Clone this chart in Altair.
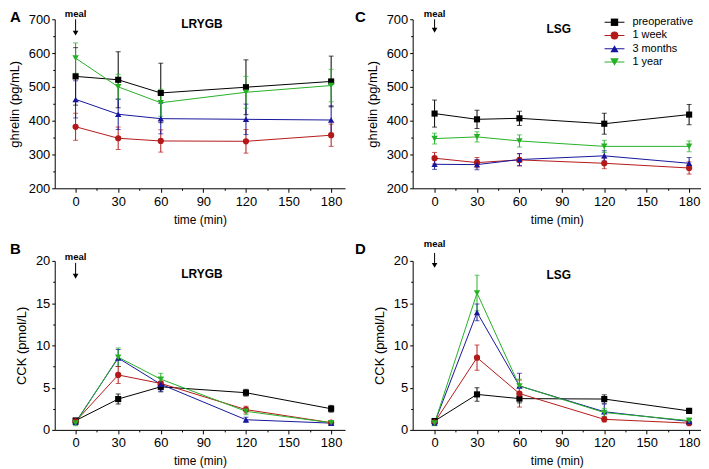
import altair as alt
import pandas as pd

# ---------------- data ----------------
times = [0, 30, 60, 120, 180]
series = ["preoperative", "1 week", "3 months", "1 year"]
colors = ["#000000", "#b41919", "#16169c", "#26b026"]
shapes = ["square", "circle", "triangle-up", "triangle-down"]
point_sizes = [38, 42, 50, 50]
legend_sizes = [55, 75, 95, 95]
meal_time = [0]
meal_label = ["meal"]
panel_letters = ["A", "B", "C", "D"]
panel_titles = ["LRYGB", "LRYGB", "LSG", "LSG"]
ghrelin_title = "ghrelin (pg/mL)"
cck_title = "CCK (pmol/L)"
time_title = "time (min)"
x_ticks = [0, 30, 60, 90, 120, 150, 180]
x_minor = [15, 45, 75, 105, 135, 165]
ghrelin_ticks = [200, 300, 400, 500, 600, 700]
ghrelin_minor = [250, 350, 450, 550, 650]
cck_ticks = [0, 5, 10, 15, 20]
cck_minor = [2.5, 7.5, 12.5, 17.5]

# Panel A: ghrelin, LRYGB (mean, SEM)
a_preop = [531, 521, 482, 499, 516]
a_preop_se = [85, 83, 88, 81, 75]
a_1w = [382, 348, 340, 339, 357]
a_1w_se = [40, 33, 33, 35, 33]
a_3m = [463, 419, 406, 404, 402]
a_3m_se = [55, 45, 45, 45, 42]
a_1y = [585, 500, 453, 484, 504]
a_1y_se = [45, 37, 40, 47, 48]

# Panel C: ghrelin, LSG
c_preop = [421, 404, 407, 391, 418]
c_preop_se = [40, 27, 21, 31, 30]
c_1w = [289, 276, 284, 274, 260]
c_1w_se = [17, 15, 18, 16, 18]
c_3m = [271, 270, 285, 296, 274]
c_3m_se = [15, 15, 18, 15, 17]
c_1y = [347, 352, 340, 324, 324]
c_1y_se = [16, 15, 18, 18, 16]

# Panel B: CCK, LRYGB
b_preop = [1.1, 3.65, 5.1, 4.4, 2.5]
b_preop_se = [0.3, 0.6, 0.6, 0.4, 0.4]
b_1w = [1.0, 6.5, 5.5, 2.4, 0.85]
b_1w_se = [0.3, 1.0, 0.7, 0.4, 0.2]
b_3m = [0.9, 8.5, 5.4, 1.2, 0.8]
b_3m_se = [0.3, 1.0, 0.8, 0.3, 0.2]
b_1y = [0.8, 8.6, 6.0, 2.2, 0.85]
b_1y_se = [0.3, 1.1, 0.7, 0.4, 0.2]

# Panel D: CCK, LSG
d_preop = [1.05, 4.2, 3.7, 3.65, 2.25]
d_preop_se = [0.3, 0.8, 0.5, 0.5, 0.3]
d_1w = [0.9, 8.55, 4.3, 1.25, 0.8]
d_1w_se = [0.3, 1.5, 1.6, 0.3, 0.2]
d_3m = [0.85, 13.9, 5.2, 2.15, 1.0]
d_3m_se = [0.3, 1.0, 1.5, 0.9, 0.3]
d_1y = [0.8, 16.2, 5.2, 2.05, 1.1]
d_1y_se = [0.3, 2.1, 0.8, 0.5, 0.3]

FONT = "Liberation Sans"


def make_df(means, ses):
    rows = []
    for s, m, e in zip(series, means, ses):
        for t, v, se in zip(times, m, e):
            rows.append({"series": s, "time": t, "mean": v, "lo": v - se, "hi": v + se})
    return pd.DataFrame(rows)


color_enc = alt.Color("series:N", scale=alt.Scale(domain=series, range=colors), legend=None)
shape_enc = alt.Shape("series:N", scale=alt.Scale(domain=series, range=shapes), legend=None)


def panel(df, letter, title, ytitle, ydom, ymajor, yminor, xdom, width, lay, legend=False):
    height = 170

    def X(field, axis=None):
        return alt.X(field, type="quantitative",
                     scale=alt.Scale(domain=xdom, nice=False, zero=False),
                     axis=axis)

    def Y(field, axis=None):
        return alt.Y(field, type="quantitative",
                     scale=alt.Scale(domain=ydom, nice=False, zero=False),
                     axis=axis)

    base = alt.Chart(df)
    err = base.mark_rule(strokeWidth=1).encode(
        x=X("time"), y=Y("lo"), y2="hi", color=color_enc)
    cap_lo = base.mark_tick(orient="horizontal", size=5, thickness=1).encode(
        x=X("time"), y=Y("lo"), color=color_enc)
    cap_hi = base.mark_tick(orient="horizontal", size=5, thickness=1).encode(
        x=X("time"), y=Y("hi"), color=color_enc)
    line = base.mark_line(strokeWidth=1).encode(
        x=X("time"), y=Y("mean"), color=color_enc)
    pts = base.mark_point(filled=True, opacity=1).encode(
        x=X("time", alt.Axis(values=x_ticks, title=time_title, orient="bottom",
                             tickSize=4, labelPadding=3, titlePadding=6,
                             titleFontSize=12, labelFlush=False, labelOverlap=False)),
        y=Y("mean", alt.Axis(values=ymajor, title=ytitle, orient="left",
                             tickSize=3, labelPadding=2, titlePadding=7,
                             titleFontSize=13, labelFlush=False, labelOverlap=False)),
        color=color_enc, shape=shape_enc,
        size=alt.Size("series:N", scale=alt.Scale(domain=series, range=point_sizes), legend=None),
    )
    minor = base.mark_point(opacity=0).encode(
        x=X("time", alt.Axis(values=x_minor, labels=False, tickSize=2, domain=False,
                             title=None, orient="bottom")),
        y=Y("mean", alt.Axis(values=yminor, labels=False, tickSize=2, domain=False,
                             title=None, orient="left")),
    )

    letter_t = alt.Chart(pd.DataFrame({"label": [letter]})).mark_text(
        align="left", baseline="alphabetic", fontSize=15, fontWeight="bold", font=FONT,
        color="black").encode(text="label:N", x=alt.value(lay["lx"]), y=alt.value(lay["ly"]))
    title_t = alt.Chart(pd.DataFrame({"label": [title]})).mark_text(
        align="center", baseline="alphabetic", fontSize=12, fontWeight="bold", font=FONT,
        color="black").encode(text="label:N", x=alt.value(width / 2 + 2), y=alt.value(lay["ty"]))

    meal_df = pd.DataFrame({"label": meal_label, "time": meal_time})
    meal_base = alt.Chart(meal_df)
    meal_t = meal_base.mark_text(align="center", baseline="alphabetic", fontSize=9.5,
                                 fontWeight="bold", font=FONT, color="black").encode(
        text="label:N", x=X("time"), y=alt.value(lay["my"]))
    shaft = meal_base.mark_rule(color="black", strokeWidth=1).encode(
        x=X("time"), y=alt.value(lay["s0"]), y2=alt.value(lay["s1"]))
    head = meal_base.mark_point(shape="triangle-down", filled=True, opacity=1,
                                color="black", size=32).encode(
        x=X("time"), y=alt.value(lay["h"]))

    layers = [err, cap_lo, cap_hi, line, pts, minor, letter_t, title_t, meal_t, shaft, head]

    if legend:
        lg = alt.Chart(pd.DataFrame({"series": series, "idx": list(range(len(series)))}))
        lg_y = alt.Y("idx:Q", scale=alt.Scale(domain=[0, 3], range=[3, 43]), axis=None)
        lg_rule = lg.mark_rule(strokeWidth=1).encode(
            x=alt.value(193), x2=alt.value(213), y=lg_y, color=color_enc)
        lg_pts = lg.mark_point(filled=True, opacity=1).encode(
            x=alt.value(203), y=lg_y, color=color_enc, shape=shape_enc,
            size=alt.Size("series:N", scale=alt.Scale(domain=series, range=legend_sizes), legend=None))
        lg_txt = lg.mark_text(align="left", baseline="middle", fontSize=11, font=FONT,
                              color="black").encode(
            x=alt.value(221), y=lg_y, text="series:N")
        layers += [lg_rule, lg_pts, lg_txt]

    return alt.layer(*layers).resolve_scale(
        x="independent", y="independent", size="independent"
    ).properties(width=width, height=height)


dfA = make_df([a_preop, a_1w, a_3m, a_1y], [a_preop_se, a_1w_se, a_3m_se, a_1y_se])
dfB = make_df([b_preop, b_1w, b_3m, b_1y], [b_preop_se, b_1w_se, b_3m_se, b_1y_se])
dfC = make_df([c_preop, c_1w, c_3m, c_1y], [c_preop_se, c_1w_se, c_3m_se, c_1y_se])
dfD = make_df([d_preop, d_1w, d_3m, d_1y], [d_preop_se, d_1w_se, d_3m_se, d_1y_se])

xdom_left = [-14.7, 189.8]
xdom_right = [-15.5, 188.4]

pA = panel(dfA, panel_letters[0], panel_titles[0], ghrelin_title, [200, 700],
           ghrelin_ticks, ghrelin_minor, xdom_left, 292,
           dict(lx=-45, ly=3, ty=9, my=-2, s0=0, s1=12, h=14))
pC = panel(dfC, panel_letters[2], panel_titles[2], ghrelin_title, [200, 700],
           ghrelin_ticks, ghrelin_minor, xdom_right, 290,
           dict(lx=-58, ly=3, ty=14, my=-2, s0=0, s1=9, h=11), legend=True)
pB = panel(dfB, panel_letters[1], panel_titles[1], cck_title, [0, 20],
           cck_ticks, cck_minor, xdom_left, 292,
           dict(lx=-45, ly=-7, ty=17, my=-1, s0=2, s1=14, h=15.5))
pD = panel(dfD, panel_letters[3], panel_titles[3], cck_title, [0, 20],
           cck_ticks, cck_minor, xdom_right, 290,
           dict(lx=-58, ly=-7, ty=18, my=-14, s0=-8, s1=3, h=4.5))

chart = alt.vconcat(
    alt.hconcat(pA, pC, spacing=10),
    alt.hconcat(pB, pD, spacing=10),
    spacing=14,
).properties(
    padding={"left": 0, "top": 0, "right": 0, "bottom": 0}
).configure(font=FONT).configure_view(stroke=None).configure_axis(
    domainColor="black", tickColor="black", labelColor="black", titleColor="black",
    grid=False, labelFontSize=13, titleFontWeight="normal", labelFont=FONT, titleFont=FONT,
    domainWidth=1, tickWidth=1,
)

chart.save("out.html", embed_options={"renderer": "svg", "actions": False})
